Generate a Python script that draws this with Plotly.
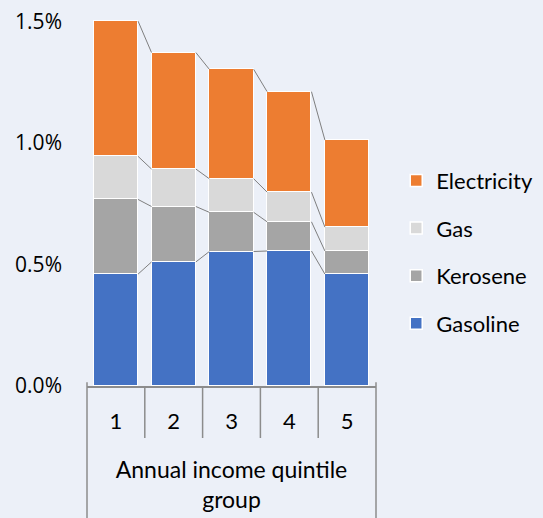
import plotly.graph_objects as go

# Share of annual income spent on energy, by income quintile (percent)
quintiles = ["1", "2", "3", "4", "5"]
gasoline = [0.46, 0.51, 0.553, 0.555, 0.46]
kerosene = [0.307, 0.228, 0.161, 0.12, 0.095]
gas = [0.177, 0.154, 0.138, 0.122, 0.098]
electricity = [0.556, 0.479, 0.45, 0.413, 0.358]

y_ticks = [0, 0.5, 1.0, 1.5]
y_tick_labels = ["0.0%", "0.5%", "1.0%", "1.5%"]

series = [
    ("Gasoline", gasoline, "#4472C4"),
    ("Kerosene", kerosene, "#A5A5A5"),
    ("Gas", gas, "#D9D9D9"),
    ("Electricity", electricity, "#ED7D31"),
]

BG = "#ECF0F8"
BAR_W = 0.767
LINE_GREY = "#8C8C8C"
FONT = "Lato"

x = list(range(len(quintiles)))
fig = go.Figure()

# stacked bars (legend lists the top segment first)
for k, (name, vals, color) in enumerate(series):
    fig.add_trace(go.Bar(
        x=x, y=vals, name=name, width=BAR_W,
        marker=dict(color=color, line=dict(color="white", width=1.5)),
        legendgroup=name, legendrank=len(series) - k,
    ))

# series lines joining the top of each stacked segment between neighbouring bars
running = [0.0] * len(x)
for name, vals, color in series:
    running = [r + v for r, v in zip(running, vals)]
    lx, ly = [], []
    for i in range(len(x) - 1):
        lx += [x[i] + BAR_W / 2, x[i + 1] - BAR_W / 2, None]
        ly += [running[i], running[i + 1], None]
    fig.add_trace(go.Scatter(
        x=lx, y=ly, mode="lines", showlegend=False, hoverinfo="skip",
        line=dict(color="#7F7F7F", width=1),
    ))

# category box lines below the axis
n = len(quintiles)
shapes = []
for k in range(n + 1):
    xp = k / n
    outer = k in (0, n)
    shapes.append(dict(
        type="line", xref="paper", yref="paper",
        x0=xp, x1=xp, y0=0.01 if outer else 0, y1=-0.36 if outer else -0.138,
        line=dict(color=LINE_GREY, width=1.5),
    ))

fig.update_layout(
    width=543, height=518,
    margin=dict(l=87, r=167, t=9, b=132, autoexpand=False),
    paper_bgcolor=BG, plot_bgcolor=BG,
    barmode="stack", bargap=0,
    shapes=shapes,
    showlegend=True,
    legend=dict(
        x=1.07, y=0.355, xanchor="left", yanchor="middle",
        traceorder="grouped", tracegroupgap=16,
        font=dict(family=FONT, size=22, color="#000000"),
        bgcolor="rgba(0,0,0,0)",
    ),
    xaxis=dict(
        range=[-0.5, n - 0.5],
        tickmode="array", tickvals=x, ticktext=quintiles,
        showline=True, linecolor=LINE_GREY, linewidth=1.5,
        showgrid=False, zeroline=False, ticks="",
        ticklabelstandoff=15,
        tickfont=dict(family=FONT, size=22, color="#000000"),
        title=dict(text="Annual income quintile<br>group", standoff=29,
                   font=dict(family=FONT, size=23, color="#000000")),
    ),
    yaxis=dict(
        range=[0, 1.55],
        tickmode="array", tickvals=y_ticks, ticktext=y_tick_labels,
        showgrid=False, zeroline=False, showline=False, ticks="",
        ticklabelstandoff=24,
        tickfont=dict(family="Open Sans", size=21, color="#000000"),
    ),
)

fig.write_html("out.html")
